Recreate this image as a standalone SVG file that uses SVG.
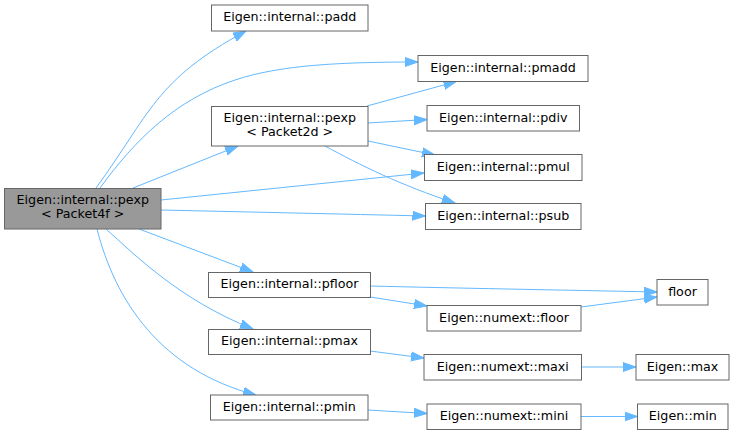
<svg xmlns="http://www.w3.org/2000/svg" width="736" height="435" viewBox="0 0 736 435">
<style>
  .node rect { fill: #ffffff; stroke: #666666; stroke-width: 1; }
  .root rect { fill: #999999; }
  text { font-family: "DejaVu Sans", "Liberation Sans", sans-serif; font-size: 12.7px; fill: #000000; text-anchor: middle; }
  .edges path { fill: none; stroke: #63b8ff; stroke-width: 1; marker-end: url(#arr); }
</style>
<defs>
  <marker id="arr" markerUnits="userSpaceOnUse" markerWidth="14" markerHeight="11" refX="13" refY="5" orient="auto">
    <path d="M0,0.5 L13,5 L0,9.5 z" fill="#63b8ff" stroke="#63b8ff" stroke-width="1"/>
  </marker>
</defs>
<rect width="736" height="435" fill="#ffffff"/>
<g class="edges" id="edges">
  <path d="M96,188 C150,114 155,80 246,31"/>
  <path d="M100,188 C135,140 175,100 235,80 C280,65 340,62 418,62"/>
  <path d="M133,188 L238,146"/>
  <path d="M161,200 L424,173"/>
  <path d="M161,210 C250,212 340,214 425.5,216"/>
  <path d="M139,229 L253,272"/>
  <path d="M106,229 C135,255 180,300 253,329"/>
  <path d="M97,229 C115,300 160,370 256,395"/>
  <path d="M367,106 L456.5,81.5"/>
  <path d="M368,123 L427,119.5"/>
  <path d="M368,141 L435,155"/>
  <path d="M325,146 C360,165 400,185 455,203"/>
  <path d="M370.5,286 C450,288 560,290 657,292"/>
  <path d="M370.5,297 L427,306"/>
  <path d="M581,307 L657,297"/>
  <path d="M370,351 L424,358"/>
  <path d="M581.5,367 L636,367"/>
  <path d="M368,410 L427,413.5"/>
  <path d="M581,416.5 L637.5,416.5"/>
</g>
<g class="node root" id="node_pexp4f">
  <rect x="4.5" y="188.5" width="156.5" height="40.5"/>
  <text x="82.75" y="203.5">Eigen::internal::pexp</text>
  <text x="82.75" y="218">&lt; Packet4f &gt;</text>
</g>
<g class="node" id="node_padd">
  <rect x="211.5" y="5" width="156.5" height="26"/>
  <text x="289.75" y="21.2">Eigen::internal::padd</text>
</g>
<g class="node" id="node_pexp2d">
  <rect x="211.5" y="106.5" width="156.5" height="39.5"/>
  <text x="289.75" y="121.5">Eigen::internal::pexp</text>
  <text x="289.75" y="136">&lt; Packet2d &gt;</text>
</g>
<g class="node" id="node_pmadd">
  <rect x="418" y="55.5" width="170" height="26"/>
  <text x="503" y="71.7">Eigen::internal::pmadd</text>
</g>
<g class="node" id="node_pdiv">
  <rect x="427" y="105.5" width="152.5" height="25.5"/>
  <text x="503.25" y="121.5">Eigen::internal::pdiv</text>
</g>
<g class="node" id="node_pmul">
  <rect x="424.5" y="154.5" width="157.5" height="26"/>
  <text x="503.25" y="170.7">Eigen::internal::pmul</text>
</g>
<g class="node" id="node_psub">
  <rect x="425.5" y="203.5" width="155.5" height="26"/>
  <text x="503.25" y="219.7">Eigen::internal::psub</text>
</g>
<g class="node" id="node_pfloor">
  <rect x="208.5" y="272.5" width="162" height="25"/>
  <text x="289.5" y="288.2">Eigen::internal::pfloor</text>
</g>
<g class="node" id="node_floor">
  <rect x="657" y="279.5" width="51" height="25.5"/>
  <text x="682.5" y="295.5">floor</text>
</g>
<g class="node" id="node_numext_floor">
  <rect x="427" y="305.5" width="154" height="25.5"/>
  <text x="504" y="321.5">Eigen::numext::floor</text>
</g>
<g class="node" id="node_pmax">
  <rect x="208.5" y="329.5" width="162" height="25"/>
  <text x="289.5" y="345.2">Eigen::internal::pmax</text>
</g>
<g class="node" id="node_maxi">
  <rect x="424" y="354.5" width="157.5" height="25.5"/>
  <text x="502.75" y="370.5">Eigen::numext::maxi</text>
</g>
<g class="node" id="node_max">
  <rect x="636" y="354.5" width="93" height="25.5"/>
  <text x="682.5" y="370.5">Eigen::max</text>
</g>
<g class="node" id="node_pmin">
  <rect x="210.5" y="395" width="157.5" height="25"/>
  <text x="289.25" y="410.7">Eigen::internal::pmin</text>
</g>
<g class="node" id="node_mini">
  <rect x="427" y="404" width="154" height="25.5"/>
  <text x="504" y="420">Eigen::numext::mini</text>
</g>
<g class="node" id="node_min">
  <rect x="637.5" y="404" width="90.5" height="25.5"/>
  <text x="682.75" y="420">Eigen::min</text>
</g>
</svg>
